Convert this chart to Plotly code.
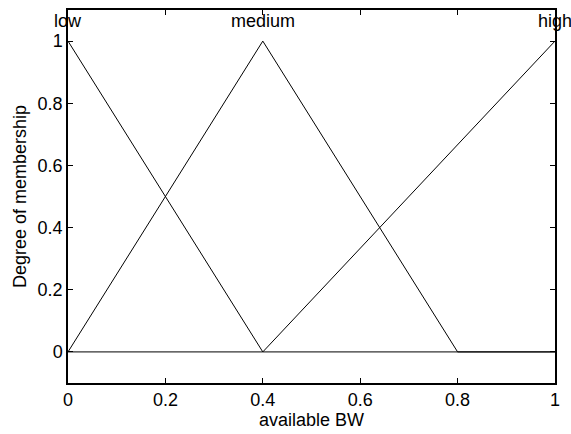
import plotly.graph_objects as go

x_low = [0, 0.4, 1.0]
y_low = [1, 0, 0]
x_med = [0, 0.4, 0.8, 1.0]
y_med = [0, 1, 0, 0]
x_high = [0, 0.4, 1.0]
y_high = [0, 0, 1]
labels = ["low", "medium", "high"]
label_x = [0, 0.4, 1.0]
label_y = [1.0, 1.0, 1.0]
ticks = [0, 0.2, 0.4, 0.6, 0.8, 1]
tick_text = ["0", "0.2", "0.4", "0.6", "0.8", "1"]

FONT = 18
fig = go.Figure()
for xs, ys in [(x_low, y_low), (x_med, y_med), (x_high, y_high)]:
    fig.add_trace(go.Scatter(x=xs, y=ys, mode="lines",
                             line=dict(color="black", width=1), showlegend=False))
for t, lx, ly in zip(labels, label_x, label_y):
    fig.add_annotation(x=lx, y=ly, text=t, showarrow=False, yanchor="bottom",
                       yshift=9, borderpad=0, font=dict(size=FONT, color="black"))

axis_common = dict(showgrid=False, zeroline=False, showline=True, linecolor="black",
                   linewidth=1.5, mirror="ticks", ticks="inside", ticklen=5,
                   tickcolor="black", tickfont=dict(size=FONT, color="black"))
fig.update_xaxes(range=[0, 1], tickvals=ticks, ticktext=tick_text,
                 title=dict(text="available BW", font=dict(size=FONT, color="black"), standoff=2),
                 **axis_common)
fig.update_yaxes(range=[-0.1, 1.1], tickvals=ticks, ticktext=tick_text,
                 title=dict(text="Degree of membership", font=dict(size=FONT, color="black"), standoff=6),
                 **axis_common)
fig.update_layout(width=571, height=434, margin=dict(l=68, r=16, t=8, b=51),
                  plot_bgcolor="white", paper_bgcolor="white",
                  font=dict(family="Liberation Sans, Arial, sans-serif", color="black"))
fig.write_html("out.html")
